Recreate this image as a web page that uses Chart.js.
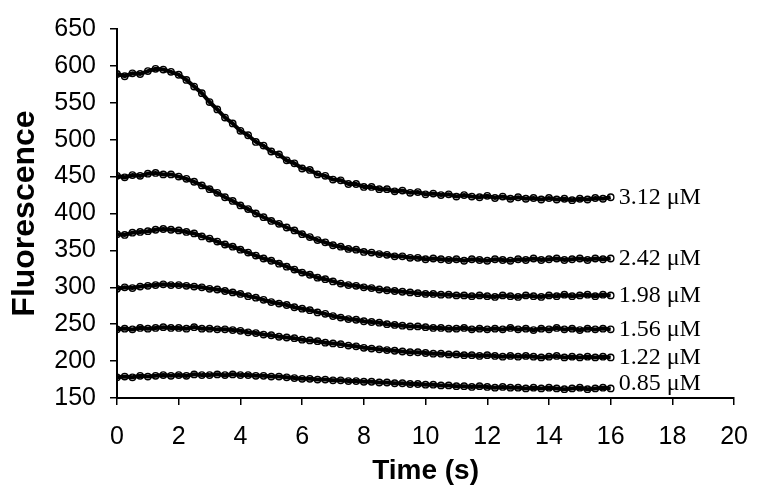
<!DOCTYPE html>
<html><head><meta charset="utf-8">
<script src="https://cdn.jsdelivr.net/npm/chart.js@4/dist/chart.umd.min.js"></script>
<style>html,body{margin:0;padding:0;background:#fff;}canvas{display:block;}</style>
</head><body>
<canvas id="c" width="765" height="501"></canvas>
<script>
const times = [0,0.25,0.5,0.75,1,1.25,1.5,1.75,2,2.25,2.5,2.75,3,3.25,3.5,3.75,4,4.25,4.5,4.75,5,5.25,5.5,5.75,6,6.25,6.5,6.75,7,7.25,7.5,7.75,8,8.25,8.5,8.75,9,9.25,9.5,9.75,10,10.25,10.5,10.75,11,11.25,11.5,11.75,12,12.25,12.5,12.75,13,13.25,13.5,13.75,14,14.25,14.5,14.75,15,15.25,15.5,15.75,16];

const conc312 = [589,586,590,589,593,596,595,592,588,581,572,563,551,541,530,522,512,506,497,492,484,480,472,468,461,459,453,451,446,445,440,440,436,436,433,433,430,431,428,429,426,427,425,426,423,425,423,422,424,421,423,420,422,420,421,419,421,419,420,418,420,419,421,420,422];
const conc242 = [451,449,452,451,454,455,453,453,450,447,443,438,433,428,422,417,411,406,400,395,390,386,381,377,372,368,364,361,357,355,352,351,348,347,345,344,342,342,340,340,338,339,338,337,338,336,338,337,336,338,337,336,338,337,339,337,338,339,337,338,339,337,339,338,339];
const conc198 = [372,371,374,375,376,378,379,378,377,375,373,369,366,362,358,355,351,347,343,339,336,332,328,324,320,317,313,311,308,305,303,302,300,299,297,296,295,294,293,292,291,291,290,290,289,289,288,289,288,287,289,288,287,289,288,287,289,288,290,288,289,290,288,290,289];
const conc156 = [298,300,299,301,302,303,304,303,303,302,301,300,298,297,295,293,291,288,286,283,280,278,276,273,271,269,266,264,261,259,257,256,254,253,252,250,249,248,247,247,246,245,245,244,244,245,243,244,243,244,243,245,243,244,242,244,243,245,243,244,242,244,243,244,243];
const conc122 = [243,244,243,245,244,245,246,245,245,244,246,244,244,243,243,242,241,239,238,236,235,233,232,231,229,228,227,225,224,223,221,220,218,217,216,215,214,213,212,212,211,210,210,209,209,208,208,207,208,207,206,207,206,207,206,205,206,207,205,206,205,206,205,206,205];
const conc085 = [178,179,178,180,179,180,181,180,181,180,182,181,181,182,181,182,181,181,180,180,179,179,178,177,176,176,175,175,174,174,173,173,172,172,171,171,170,170,169,169,168,168,167,167,166,166,165,166,165,164,165,164,164,163,164,163,164,163,162,163,164,162,163,164,163];

const seriesLabels = ['3.12 \u03bcM','2.42 \u03bcM','1.98 \u03bcM','1.56 \u03bcM','1.22 \u03bcM','0.85 \u03bcM'];
const xTickValues = [0,2,4,6,8,10,12,14,16,18,20];
const yTickValues = [150,200,250,300,350,400,450,500,550,600,650];

const seriesValues = [conc312, conc242, conc198, conc156, conc122, conc085];
const datasets = seriesValues.map((vals, i) => ({
  label: seriesLabels[i],
  data: times.map((t, j) => ({x: t, y: vals[j]})),
  showLine: true,
  borderColor: '#000',
  borderWidth: 4,
  pointRadius: 3.2,
  pointBorderWidth: 1.4,
  pointBorderColor: '#000',
  pointBackgroundColor: 'rgba(255,255,255,0)',
  tension: 0,
  fill: false
}));

const endLabels = {
  id: 'endLabels',
  afterDatasetsDraw(chart) {
    const ctx = chart.ctx;
    ctx.save();
    ctx.font = '24px "Liberation Serif", "Times New Roman", serif';
    ctx.fillStyle = '#000';
    ctx.textBaseline = 'middle';
    ctx.textAlign = 'left';
    chart.data.datasets.forEach((ds, i) => {
      const meta = chart.getDatasetMeta(i);
      const pt = meta.data[meta.data.length - 1];
      const y = Math.min(pt.y, chart.chartArea.bottom - 14);
      ctx.fillText(ds.label, pt.x + 8, y);
    });
    ctx.restore();
  }
};

const sans = '"Liberation Sans", Arial, Helvetica, sans-serif';

new Chart(document.getElementById('c'), {
  type: 'scatter',
  data: { datasets },
  plugins: [endLabels],
  options: {
    responsive: false,
    animation: false,
    devicePixelRatio: 1,
    layout: { padding: { top: 25, right: 27, left: 0, bottom: 0 } },
    plugins: { legend: { display: false }, tooltip: { enabled: false } },
    scales: {
      x: {
        type: 'linear', min: 0, max: 20,
        afterBuildTicks: s => { s.ticks = xTickValues.map(v => ({ value: v })); },
        afterFit: s => { s.height = 103; },
        ticks: { color: '#000', font: { family: sans, size: 25 }, padding: 17, maxRotation: 0, autoSkip: false },
        grid: { drawOnChartArea: false, drawTicks: true, tickLength: 7, color: '#000', lineWidth: 1.5 },
        border: { display: true, color: '#000', width: 2 },
        title: { display: true, text: 'Time (s)', color: '#000', font: { family: sans, size: 28, weight: 'bold' }, padding: { top: 0, bottom: 13 } }
      },
      y: {
        type: 'linear', min: 150, max: 650,
        afterBuildTicks: s => { s.ticks = yTickValues.map(v => ({ value: v })); },
        afterFit: s => { s.width = 117; },
        ticks: { color: '#000', font: { family: sans, size: 25 }, padding: 14, autoSkip: false },
        grid: { drawOnChartArea: false, drawTicks: true, tickLength: 7, color: '#000', lineWidth: 1.5 },
        border: { display: true, color: '#000', width: 2 },
        title: { display: true, text: 'Fluorescence', color: '#000', font: { family: sans, size: 32, weight: 'bold' }, padding: { top: 6, bottom: 0 } }
      }
    }
  }
});
</script>
</body></html>
